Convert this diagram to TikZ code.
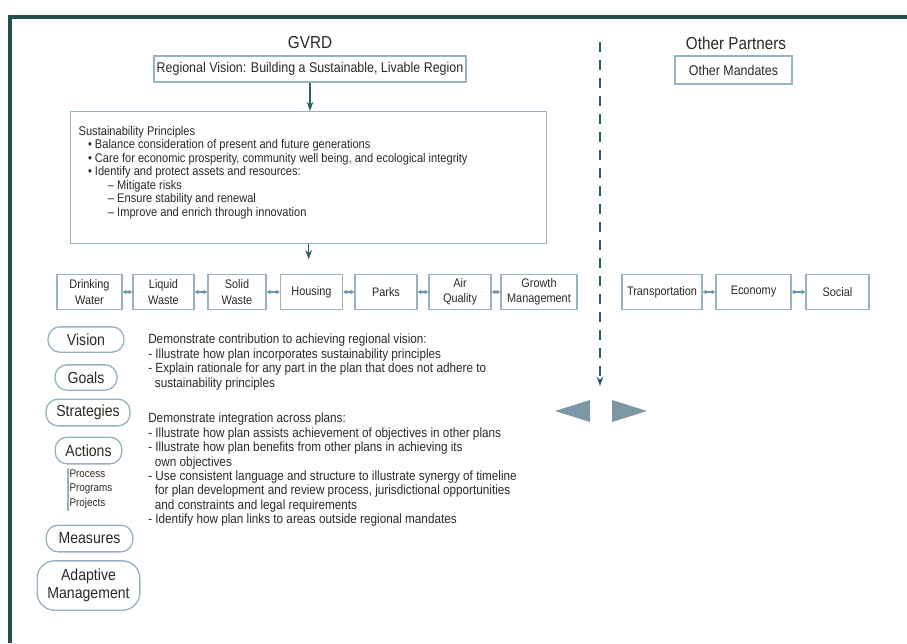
\documentclass[tikz,border=0pt]{standalone}
\usepackage{fontspec}
\setmainfont{Liberation Sans}[FakeStretch=0.88]
\usetikzlibrary{arrows.meta,positioning,calc}
\definecolor{frameteal}{RGB}{38,78,80}
\definecolor{boxline}{RGB}{150,180,192}
\definecolor{arrowteal}{RGB}{45,95,105}
\definecolor{linkblue}{RGB}{110,150,168}
\definecolor{tri}{RGB}{125,152,165}
\definecolor{ink}{RGB}{45,40,35}

\begin{document}
\begin{tikzpicture}[x=0.75pt,y=-0.75pt,
  text=ink,
  title/.style={font=\fontsize{13}{15}\selectfont},
  box/.style={draw=boxline,line width=1pt,inner sep=2pt,
              font=\fontsize{10.6}{12}\selectfont},
  plan/.style={draw=boxline,line width=1pt,align=center,inner sep=0pt,
               minimum height=26pt,font=\fontsize{9.3}{11.5}\selectfont},
  oval/.style={draw=boxline,line width=1pt,rounded corners=9pt,align=center,
               inner sep=0pt,font=\fontsize{12}{13.5}\selectfont},
  ar/.style={-{Stealth[length=7pt,width=5pt]},line width=0.8pt,draw=arrowteal},
  link/.style={{Stealth[length=3pt,width=3.5pt]}-{Stealth[length=3pt,width=3.5pt]},
               line width=1pt,draw=linkblue}]

\useasboundingbox (0,0) rectangle (907,643);
\draw[frameteal,line width=3pt] (10,643) -- (10,17) -- (907,17);

% GVRD side
\node[title] (gvrd) at (310,43) {GVRD};
\node[box,minimum width=232.5pt,minimum height=19.5pt] (vis) at (310,69)
  {Regional Vision: Building a Sustainable, Livable Region};
\node[box,anchor=north west,inner xsep=6pt,inner ysep=11pt,
      font=\fontsize{9.45}{10.1}\selectfont] (prin) at (70,111)
  {\parbox[t][77pt][t]{345pt}{%
   Sustainability Principles\\
   \hspace*{7pt}\textbullet\ Balance consideration of present and future generations\\
   \hspace*{7pt}\textbullet\ Care for economic prosperity, community well being, and ecological integrity\\
   \hspace*{7pt}\textbullet\ Identify and protect assets and resources:\\
   \hspace*{22pt}-- Mitigate risks\\
   \hspace*{22pt}-- Ensure stability and renewal\\
   \hspace*{22pt}-- Improve and enrich through innovation}};
\draw[ar] (vis.south) -- (vis.south |- prin.north);

\node[plan,minimum width=48.75pt] (dw) at (89.5,292) {Drinking\\Water};
\node[plan,minimum width=45.75pt] (lw) at (163.5,292) {Liquid\\Waste};
\node[plan,minimum width=43.5pt] (sw) at (237,292) {Solid\\Waste};
\node[plan,minimum width=46.5pt] (ho) at (311.5,292) {Housing};
\node[plan,minimum width=46.5pt] (pa) at (386,292) {Parks};
\node[plan,minimum width=46.5pt] (aq) at (460,292) {Air\\Quality};
\node[plan,minimum width=57pt] (gm) at (539,292) {Growth\\Management};
\draw[link] (dw) -- (lw);
\draw[link] (lw) -- (sw);
\draw[link] (sw) -- (ho);
\draw[link] (ho) -- (pa);
\draw[link] (pa) -- (aq);
\draw[link] (aq) -- (gm);
\draw[ar,shorten >=11pt] (prin.south) -- (prin.south |- ho.north);

% other partners side
\node[title] (other) at (736,43) {Other Partners};
\node[box,minimum width=87.75pt,minimum height=21pt] (man) at (733.5,70) {Other Mandates};
\node[plan,minimum width=60pt] (tr) at (662,292) {Transportation};
\node[plan,minimum width=56.25pt] (ec) at (753.5,292) {Economy};
\node[plan,minimum width=47.25pt] (so) at (837.5,292) {Social};
\draw[link] (tr) -- (ec);
\draw[link] (ec) -- (so);

\coordinate (dtop) at (600,42);
\coordinate (dbot) at (600,386);
\draw[ar,dash pattern=on 7.5pt off 6pt] (dtop) -- (dbot);
\fill[tri] (590,400) -- (555,411) -- (590,422) -- cycle;
\fill[tri] (612,400) -- (647,411) -- (612,422) -- cycle;

% plan elements
\node[oval,minimum width=57pt,minimum height=19pt] (vi) at (86,339.5) {Vision};
\node[oval,minimum width=46.5pt,minimum height=19pt] (go) at (86,377.5) {Goals};
\node[oval,minimum width=63pt,minimum height=20pt] (st) at (88,412.5) {Strategies};
\node[oval,minimum width=50pt,minimum height=20pt] (ac) at (88.5,450.5) {Actions};
\node[anchor=north west,align=left,inner sep=1pt,
      font=\fontsize{8.4}{11}\selectfont] (sub) at (68,468) {Process\\Programs\\Projects};
\draw[boxline,line width=1pt] (sub.north west) -- (sub.south west);
\node[oval,minimum width=65pt,minimum height=20pt] (me) at (89.5,538.5) {Measures};
\node[oval,minimum width=77pt,minimum height=37pt,rounded corners=13pt] (am) at (88.5,585.5)
  {Adaptive\\Management};

\node[anchor=north west,align=left,inner sep=0pt,
      font=\fontsize{10}{10.8}\selectfont] (txt) at (148,334)
  {Demonstrate contribution to achieving regional vision:\\
   - Illustrate how plan incorporates sustainability principles\\
   - Explain rationale for any part in the plan that does not adhere to\\
   \hspace*{5pt}sustainability principles\\[16pt]
   Demonstrate integration across plans:\\
   - Illustrate how plan assists achievement of objectives in other plans\\
   - Illustrate how plan benefits from other plans in achieving its\\
   \hspace*{5pt}own objectives\\
   - Use consistent language and structure to illustrate synergy of timeline\\
   \hspace*{5pt}for plan development and review process, jurisdictional opportunities\\
   \hspace*{5pt}and constraints and legal requirements\\
   - Identify how plan links to areas outside regional mandates};
\end{tikzpicture}
\end{document}
